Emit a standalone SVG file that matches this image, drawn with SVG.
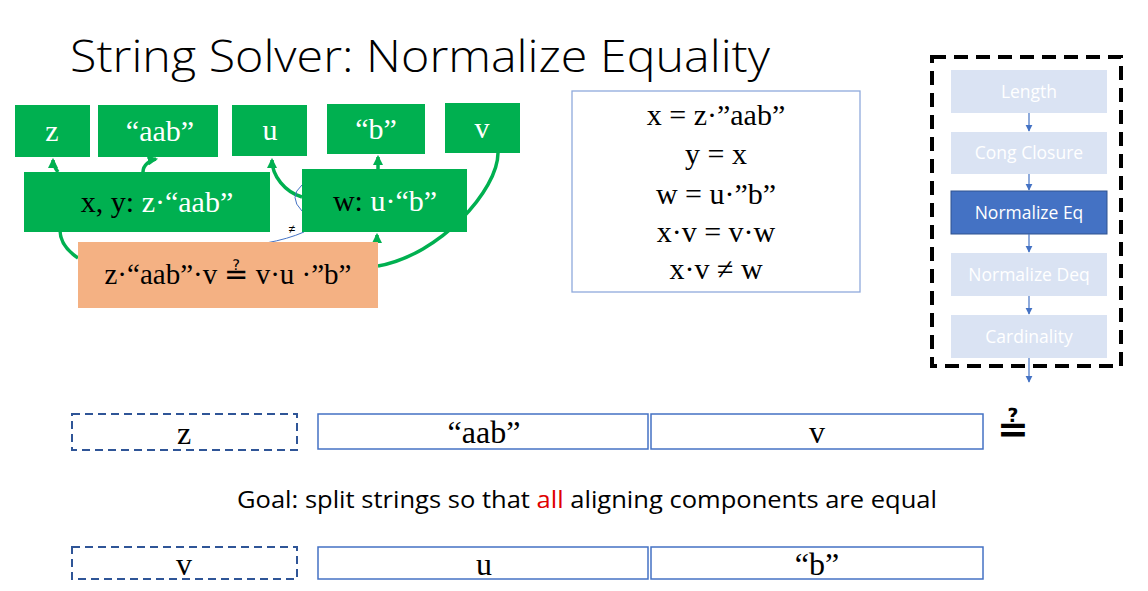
<svg xmlns="http://www.w3.org/2000/svg" width="1148" height="591" viewBox="0 0 1148 591">
<defs>
<style>
.g{fill:#00B050}
.wt{fill:#fff;font-family:"Liberation Serif",serif;font-size:30px;text-anchor:middle}
.lbl{font-family:"Liberation Serif",serif;font-size:30px;text-anchor:middle}
.eq{fill:#000;font-family:"Liberation Serif",serif;font-size:30px;text-anchor:middle}
.conn{fill:none;stroke:#00B050;stroke-width:3.5}
.thin{fill:none;stroke:#4472C4;stroke-width:1}
.pl{fill:#DAE3F3}
.pt{fill:#fff;font-family:"Open Sans","Liberation Sans",sans-serif;font-size:17.5px;text-anchor:middle}
.parr{stroke:#4472C4;stroke-width:1.2}
.sb{fill:#fff;stroke:#4472C4;stroke-width:1.5}
.db{fill:#fff;stroke:#2F5597;stroke-width:2;stroke-dasharray:8 5}
.st{fill:#000;font-family:"Liberation Serif",serif;font-size:32px;text-anchor:middle}
</style>
<marker id="ga" viewBox="0 0 10 10" refX="8" refY="5" markerWidth="3" markerHeight="3" orient="auto" markerUnits="strokeWidth">
<path d="M0,0 L10,5 L0,10 z" fill="#00B050"/>
</marker>
<marker id="ba" viewBox="0 0 10 10" refX="9" refY="5" markerWidth="6" markerHeight="6" orient="auto" markerUnits="strokeWidth">
<path d="M0,0 L10,5 L0,10 z" fill="#4472C4"/>
</marker>
</defs>
<rect width="1148" height="591" fill="#fff"/>
<text x="70" y="72" font-family="'Open Sans','Liberation Sans',sans-serif" font-weight="300" font-size="44" textLength="700" lengthAdjust="spacingAndGlyphs" fill="#000">String Solver: Normalize Equality</text>

<g id="connectors">
<path class="conn" d="M378 266 C440 255 498 190 498 153"/>
<path class="conn" d="M78 258 C66 250 60 240 60 230"/>
<path class="conn" d="M58 172 C55 168 53 164 53 160" marker-end="url(#ga)"/>
<path class="conn" d="M143 172 C143 165 150 160 156 159" marker-end="url(#ga)"/>
<path class="conn" d="M302 197 C285 192 272 176 272 160" marker-end="url(#ga)"/>
<path class="conn" d="M378 169 L378 157" marker-end="url(#ga)"/>
<path class="conn" d="M377 242 L377 235" marker-end="url(#ga)"/>
<path class="thin" d="M302 185 Q288 197 302 211"/>
<path class="thin" d="M266 243 Q288 239 304 232"/>
</g>

<g id="n-z"><rect class="g" x="15" y="105" width="75" height="52"/><text class="wt" x="52" y="141">z</text></g>
<g id="n-aab"><rect class="g" x="98" y="105" width="120" height="52"/><text class="wt" x="160" y="141">“aab”</text></g>
<g id="n-u"><rect class="g" x="232" y="105" width="75" height="51"/><text class="wt" x="270" y="140">u</text></g>
<g id="n-b"><rect class="g" x="327" y="104" width="98" height="50"/><text class="wt" x="376" y="139">“b”</text></g>
<g id="n-v"><rect class="g" x="445" y="103" width="75" height="50"/><text class="wt" x="482" y="138">v</text></g>

<g id="n-xy"><rect class="g" x="24" y="172" width="246" height="60"/>
<text class="lbl" x="157" y="212"><tspan fill="#000">x, y: </tspan><tspan fill="#fff">z·“aab”</tspan></text></g>
<g id="n-w"><rect class="g" x="302" y="169" width="165" height="63"/>
<text class="lbl" x="385" y="211"><tspan fill="#000">w: </tspan><tspan fill="#fff">u·“b”</tspan></text></g>
<text x="292" y="233" font-family="'Liberation Sans',sans-serif" font-size="12" text-anchor="middle" fill="#000">≠</text>

<g id="n-eq"><rect x="78" y="242" width="300" height="66" fill="#F4B183"/>
<text x="228" y="284" text-anchor="middle" font-family="'Liberation Serif','DejaVu Serif',serif" font-size="29" fill="#000">z·“aab”·v ≟ v·u ·”b”</text></g>

<g id="n-constraints"><rect x="572" y="91" width="288" height="201" fill="#fff" stroke="#8FAADC" stroke-width="1.3"/>
<text class="eq" x="716" y="125">x = z·”aab”</text>
<text class="eq" x="716" y="164">y = x</text>
<text class="eq" x="716" y="204">w = u·”b”</text>
<text class="eq" x="716" y="242">x·v = v·w</text>
<text class="eq" x="716" y="279">x·v ≠ w</text></g>

<g id="pipeline">
<rect x="932" y="57" width="189" height="309" fill="none" stroke="#000" stroke-width="4" stroke-dasharray="14 8"/>
<g id="p-length"><rect class="pl" x="951" y="70" width="156" height="43"/><text class="pt" x="1029" y="98">Length</text></g>
<g id="p-cong"><rect class="pl" x="951" y="132" width="156" height="42"/><text class="pt" x="1029" y="159">Cong Closure</text></g>
<g id="p-neq"><rect x="951" y="191" width="156" height="43" fill="#4472C4" stroke="#2F528F" stroke-width="1"/><text class="pt" x="1029" y="219">Normalize Eq</text></g>
<g id="p-ndeq"><rect class="pl" x="951" y="253" width="156" height="43"/><text class="pt" x="1029" y="281">Normalize Deq</text></g>
<g id="p-card"><rect class="pl" x="951" y="315" width="156" height="43"/><text class="pt" x="1029" y="343">Cardinality</text></g>
<line class="parr" x1="1029" y1="113" x2="1029" y2="131" marker-end="url(#ba)"/>
<line class="parr" x1="1029" y1="174" x2="1029" y2="190" marker-end="url(#ba)"/>
<line class="parr" x1="1029" y1="234" x2="1029" y2="252" marker-end="url(#ba)"/>
<line class="parr" x1="1029" y1="296" x2="1029" y2="314" marker-end="url(#ba)"/>
<line class="parr" x1="1029" y1="358" x2="1029" y2="382" marker-end="url(#ba)"/>
</g>

<g id="row1">
<rect class="db" x="72" y="414" width="225" height="36"/><text class="st" x="184" y="444">z</text>
<rect class="sb" x="318" y="414" width="330" height="35"/><text class="st" x="484" y="443">“aab”</text>
<rect class="sb" x="651" y="414" width="332" height="35"/><text class="st" x="817" y="443">v</text>
<text x="1013" y="442" text-anchor="middle" font-family="'DejaVu Sans',sans-serif" font-size="38" font-weight="bold" fill="#000">≟</text>
</g>

<text x="237" y="508" font-family="'Open Sans','Liberation Sans',sans-serif" font-size="23" textLength="700" lengthAdjust="spacingAndGlyphs" fill="#000">Goal: split strings so that <tspan fill="#E00000">all</tspan> aligning components are equal</text>

<g id="row2">
<rect class="db" x="72" y="547" width="225" height="32"/><text class="st" x="184" y="575">v</text>
<rect class="sb" x="318" y="547" width="330" height="32"/><text class="st" x="484" y="575">u</text>
<rect class="sb" x="651" y="547" width="332" height="32"/><text class="st" x="817" y="575">“b”</text>
</g>
</svg>
